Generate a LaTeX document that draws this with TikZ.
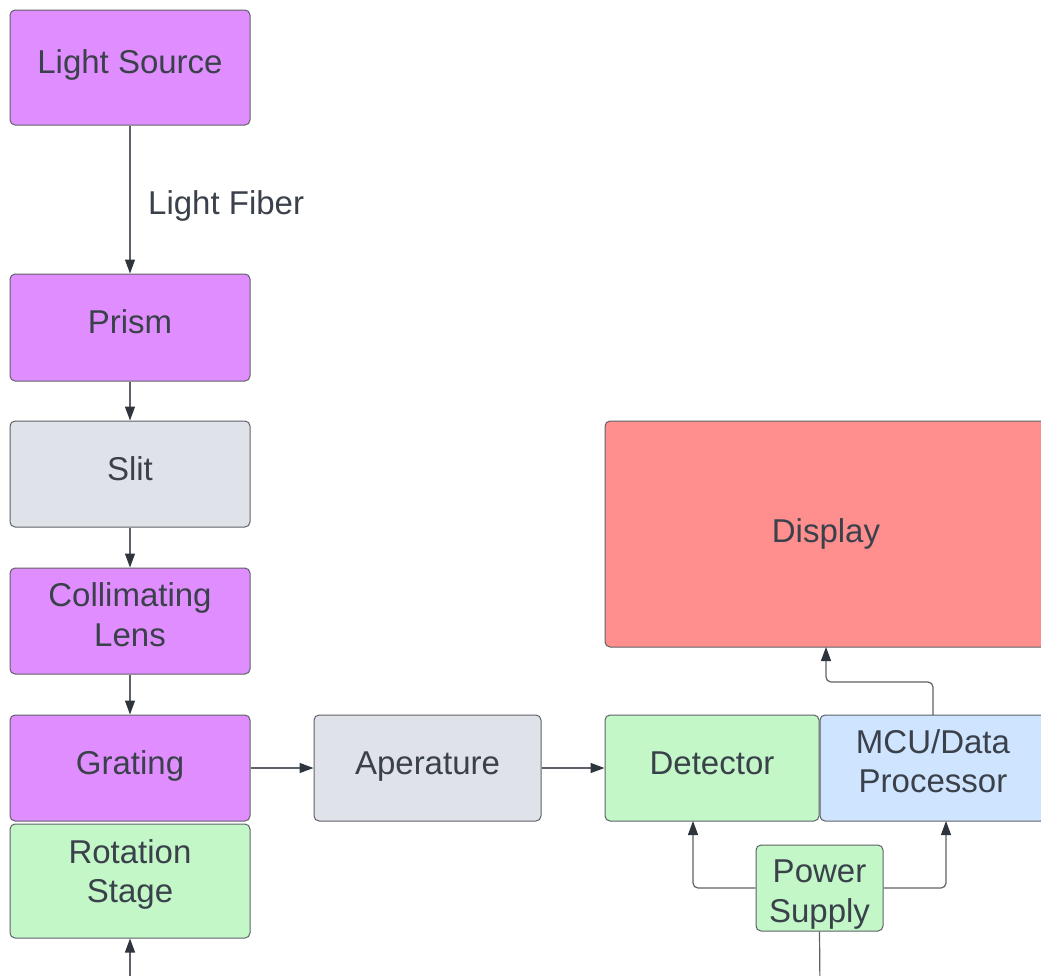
\documentclass[tikz,border=0pt]{standalone}
\usepackage{fontspec}
\setmainfont{Liberation Sans}
\usetikzlibrary{arrows.meta}
\definecolor{txt}{HTML}{3A414A}
\definecolor{tip}{HTML}{2F353D}
\definecolor{edge}{HTML}{5E6167}
\definecolor{purp}{HTML}{E08EFF}
\definecolor{grayf}{HTML}{DFE2E8}
\definecolor{greenf}{HTML}{C3F7C8}
\definecolor{bluef}{HTML}{CFE4FF}
\definecolor{redf}{HTML}{FF8F8F}
\tikzset{
  box/.style={draw=edge, line width=1pt, rounded corners=5pt, inner sep=0pt},
  conn/.style={draw=edge, line width=1.2pt, -{Triangle[length=14pt,width=10pt,color=tip,fill=tip]}},
  plain/.style={draw=edge, line width=1.2pt},
  lbl/.style={text=txt, font=\fontsize{33}{40}\selectfont, inner sep=0pt, anchor=base}
}
\begin{document}
\begin{tikzpicture}[x=1pt,y=-1pt]
\useasboundingbox (0,0) rectangle (1041,975);
\clip (0,0) rectangle (1041,975);
% boxes
\node[box, fill=purp, minimum width=240pt, minimum height=115pt] (ls) at (130,67.5) {};
\node[box, fill=purp, minimum width=240pt, minimum height=107pt] (pr) at (130,327.5) {};
\node[box, fill=grayf, minimum width=240pt, minimum height=106pt] (sl) at (130,474) {};
\node[box, fill=purp, minimum width=240pt, minimum height=106pt] (cl) at (130,621) {};
\node[box, fill=purp, minimum width=240pt, minimum height=106pt] (gr) at (130,768) {};
\node[box, fill=greenf, minimum width=240pt, minimum height=114pt] (rs) at (130,881) {};
\node[box, fill=grayf, minimum width=227pt, minimum height=106pt] (ap) at (427.5,768) {};
\node[box, fill=greenf, minimum width=214pt, minimum height=106pt] (de) at (712,768) {};
\node[box, fill=bluef, minimum width=226pt, minimum height=106pt] (mc) at (933,768) {};
\node[box, fill=redf, minimum width=446pt, minimum height=226pt] (di) at (828,534) {};
\node[box, fill=greenf, minimum width=127pt, minimum height=86pt] (ps) at (819.5,888) {};
% texts
\node[lbl] (lst) at (130,73.5) {Light Source};
\node[lbl] (prt) at (130,333.3) {Prism};
\node[lbl] (slt) at (130,480.5) {Slit};
\node[lbl] (clt1) at (130,606) {Collimating};
\node[lbl] (clt2) at (130,646) {Lens};
\node[lbl] (grt) at (130,774.5) {Grating};
\node[lbl] (rst1) at (130,863) {Rotation};
\node[lbl] (rst2) at (130,902) {Stage};
\node[lbl] (apt) at (427.5,774.5) {Aperature};
\node[lbl] (det) at (712,774.5) {Detector};
\node[lbl] (mct1) at (933,753) {MCU/Data};
\node[lbl] (mct2) at (933,792) {Processor};
\node[lbl] (dit) at (826,542.5) {Display};
\node[lbl] (pst1) at (819.5,882.5) {Power};
\node[lbl] (pst2) at (819.5,922) {Supply};
\node[lbl, anchor=base west] (lf) at (148,214.5) {Light Fiber};
% connectors
\draw[conn] (ls.south) -- (pr.north);
\draw[conn] (pr.south) -- (sl.north);
\draw[conn] (sl.south) -- (cl.north);
\draw[conn] (cl.south) -- (gr.north);
\draw[conn] (gr.east) -- (ap.west);
\draw[conn] (ap.east) -- (de.west);
\coordinate (mctop) at (933,715);
\coordinate (dibot) at (826,647);
\draw[conn, rounded corners=5pt] (mctop) -- (933,682) -- (826,682) -- (dibot);
\coordinate (debot) at (693,821);
\coordinate (mcbot) at (946,821);
\draw[conn, rounded corners=5pt] (ps.west) -- (693,888) -- (debot);
\draw[conn, rounded corners=5pt] (ps.east) -- (946,888) -- (mcbot);
\coordinate (psend) at (820,990);
\draw[plain] (ps.south) -- (psend);
\coordinate (rsstart) at (130,990);
\draw[conn] (rsstart) -- (rs.south);
\end{tikzpicture}
\end{document}
